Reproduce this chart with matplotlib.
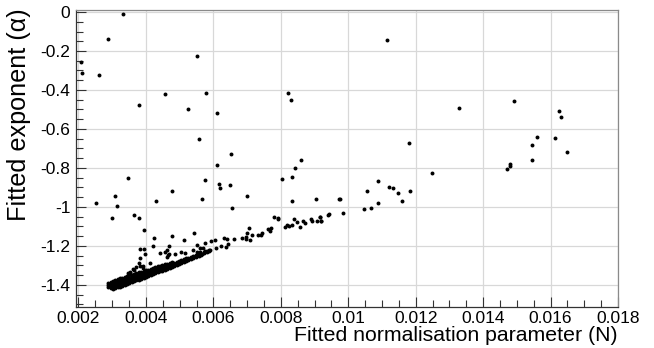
import matplotlib
matplotlib.use("Agg")
import matplotlib.pyplot as plt
import numpy as np

# scattered fits (N, alpha)
scatter_x = [0.00207, 0.00210, 0.00261, 0.00287, 0.00332, 0.00379, 0.00456, 0.00524,
             0.00550, 0.00578, 0.00610, 0.00557, 0.00651, 0.00610, 0.00820, 0.00829,
             0.00859, 0.00841, 0.00832, 0.00805, 0.00348, 0.00575,
             0.01116, 0.01327, 0.01491, 0.01624, 0.01630, 0.01181, 0.01560, 0.01614,
             0.01545, 0.01649, 0.01545, 0.01480, 0.01480, 0.01471, 0.01249,
             0.01088, 0.01122, 0.01132, 0.01055, 0.01149, 0.01184, 0.00977, 0.01160,
             0.01089, 0.01048, 0.01066, 0.00983, 0.00941, 0.00918, 0.00915,
             0.00252, 0.00308, 0.00314, 0.00430, 0.00299, 0.00365, 0.00380, 0.00394,
             0.00425, 0.00476, 0.00542, 0.00513, 0.00421, 0.00394, 0.00383, 0.00396,
             0.00469, 0.00551, 0.00461, 0.00441, 0.00468, 0.00463, 0.00378, 0.00390,
             0.00353, 0.00365, 0.00301, 0.00477, 0.00566,
             0.00616, 0.00619, 0.00649, 0.00699, 0.00655, 0.00833, 0.00904, 0.00972]
scatter_y = [-0.256, -0.313, -0.323, -0.138, -0.010, -0.477, -0.420, -0.500,
             -0.226, -0.417, -0.518, -0.650, -0.730, -0.785, -0.415, -0.451,
             -0.760, -0.800, -0.845, -0.855, -0.851, -0.862,
             -0.144, -0.492, -0.456, -0.510, -0.540, -0.670, -0.640, -0.645,
             -0.680, -0.720, -0.760, -0.780, -0.790, -0.805, -0.826,
             -0.867, -0.897, -0.903, -0.918, -0.928, -0.918, -0.959, -0.970,
             -0.979, -1.010, -1.005, -1.030, -1.040, -1.070, -1.050,
             -0.979, -0.945, -0.995, -0.969, -1.058, -1.041, -1.058, -1.116,
             -1.159, -1.149, -1.133, -1.171, -1.198, -1.214, -1.217, -1.241,
             -1.200, -1.195, -1.221, -1.237, -1.241, -1.258, -1.289, -1.301,
             -1.337, -1.323, -1.422, -0.918, -0.959,
             -0.884, -0.903, -0.886, -0.944, -1.004, -0.968, -0.959, -0.959]

# upper chain beyond the dense band
chain_x = [0.00779, 0.00791, 0.00791, 0.00839, 0.00847, 0.00865, 0.00871, 0.00889,
           0.00892, 0.00907, 0.00916, 0.00919, 0.00942, 0.00812, 0.00818, 0.00824,
           0.00833, 0.00856, 0.00705, 0.00699, 0.00696, 0.00714, 0.00684, 0.00696,
           0.00708, 0.00732, 0.00741, 0.00744, 0.00761, 0.00767, 0.00770, 0.00661,
           0.00640, 0.00631, 0.00643, 0.00637, 0.00622, 0.00607, 0.00593, 0.00604,
           0.00575, 0.00590, 0.00575, 0.00560, 0.00566,
           0.00353, 0.00361, 0.00382, 0.00391, 0.00466, 0.00486, 0.00503, 0.00560,
           0.00382, 0.00348, 0.00370, 0.00412, 0.00456, 0.00516, 0.00540, 0.00550,
           0.00570, 0.00308]
chain_y = [-1.053, -1.058, -1.063, -1.062, -1.077, -1.070, -1.080, -1.063,
           -1.073, -1.070, -1.053, -1.070, -1.037, -1.104, -1.092, -1.097,
           -1.094, -1.101, -1.109, -1.135, -1.152, -1.144, -1.157, -1.164,
           -1.171, -1.145, -1.142, -1.132, -1.114, -1.125, -1.108, -1.163,
           -1.166, -1.159, -1.191, -1.204, -1.202, -1.212, -1.173, -1.169,
           -1.186, -1.222, -1.227, -1.232, -1.241,
           -1.332, -1.318, -1.301, -1.313, -1.246, -1.241, -1.232, -1.212,
           -1.263, -1.340, -1.306, -1.289, -1.229, -1.237, -1.221, -1.229,
           -1.212, -1.412]

# dense band: column positions and alpha values in each column
band_x = [0.00288, 0.00295, 0.00302, 0.00309, 0.00316, 0.00323, 0.00330, 0.00337,
          0.00344, 0.00351, 0.00358, 0.00365, 0.00372, 0.00379, 0.00386, 0.00393,
          0.00400, 0.00407, 0.00414, 0.00421, 0.00428, 0.00435, 0.00442, 0.00449,
          0.00456, 0.00463, 0.00470, 0.00477, 0.00484, 0.00491, 0.00498, 0.00505,
          0.00512, 0.00519, 0.00526, 0.00533, 0.00540, 0.00548, 0.00556, 0.00564,
          0.00572, 0.00580, 0.00588]
band_y = [
    [-1.408, -1.398, -1.390],
    [-1.414, -1.404, -1.394, -1.385],
    [-1.418, -1.408, -1.398, -1.388, -1.378],
    [-1.416, -1.405, -1.395, -1.385, -1.374],
    [-1.412, -1.401, -1.391, -1.381, -1.370],
    [-1.408, -1.398, -1.388, -1.378, -1.366],
    [-1.404, -1.394, -1.384, -1.374, -1.362],
    [-1.400, -1.390, -1.380, -1.370, -1.358],
    [-1.396, -1.386, -1.376, -1.366, -1.355],
    [-1.392, -1.382, -1.372, -1.362, -1.350],
    [-1.386, -1.377, -1.368, -1.358, -1.347],
    [-1.382, -1.373, -1.364, -1.354, -1.343],
    [-1.377, -1.368, -1.359, -1.350, -1.340],
    [-1.372, -1.364, -1.355, -1.346, -1.336],
    [-1.368, -1.360, -1.351, -1.342, -1.332],
    [-1.363, -1.355, -1.347, -1.338, -1.328],
    [-1.358, -1.350, -1.342, -1.334, -1.324],
    [-1.354, -1.346, -1.338, -1.330, -1.321],
    [-1.349, -1.341, -1.334, -1.326, -1.317],
    [-1.344, -1.337, -1.330, -1.322, -1.313],
    [-1.340, -1.333, -1.326, -1.318, -1.309],
    [-1.335, -1.328, -1.321, -1.314, -1.305],
    [-1.330, -1.324, -1.317, -1.310, -1.301],
    [-1.326, -1.320, -1.313, -1.306, -1.298],
    [-1.321, -1.315, -1.309, -1.302, -1.294],
    [-1.316, -1.311, -1.305, -1.298, -1.290],
    [-1.312, -1.306, -1.300, -1.294, -1.286],
    [-1.307, -1.301, -1.295, -1.289, -1.282],
    [-1.302, -1.297, -1.291, -1.285],
    [-1.297, -1.292, -1.286, -1.280],
    [-1.292, -1.287, -1.282, -1.276],
    [-1.287, -1.282, -1.277, -1.272],
    [-1.282, -1.277, -1.272, -1.267],
    [-1.277, -1.272, -1.267, -1.262],
    [-1.272, -1.267, -1.262],
    [-1.267, -1.262, -1.257],
    [-1.262, -1.257, -1.252],
    [-1.256, -1.251, -1.246],
    [-1.250, -1.245, -1.240],
    [-1.244, -1.239],
    [-1.238, -1.233],
    [-1.232, -1.227],
    [-1.226, -1.221],
]

xticks = [0.002, 0.004, 0.006, 0.008, 0.010, 0.012, 0.014, 0.016, 0.018]
xticklabels = ["0.002", "0.004", "0.006", "0.008", "0.01", "0.012", "0.014", "0.016", "0.018"]
yticks = [0, -0.2, -0.4, -0.6, -0.8, -1.0, -1.2, -1.4]
yticklabels = ["0", "-0.2", "-0.4", "-0.6", "-0.8", "-1", "-1.2", "-1.4"]

plt.rcParams['font.family'] = ['Liberation Sans', 'DejaVu Sans']

fig = plt.figure(figsize=(6.54, 3.48), dpi=100)
ax = fig.add_axes([76/654, 41/348, 542/654, 297/348])

bx, by = [], []
for x, col in zip(band_x, band_y):
    for y in col:
        bx.append(x)
        by.append(y)

allx = scatter_x + chain_x + bx
ally = scatter_y + chain_y + by
ax.scatter(allx, ally, s=8, c="black", marker="o", linewidths=0, zorder=3)

ax.set_xlim(0.001926, 0.018)
ax.set_ylim(-1.513, 0.0103)
ax.set_xticks(xticks)
ax.set_xticklabels(xticklabels)
ax.set_yticks(yticks)
ax.set_yticklabels(yticklabels)
ax.set_xticks(np.arange(0.0020, 0.01801, 0.0005), minor=True)
ax.set_yticks(np.arange(-1.5, 0.001, 0.05), minor=True)
ax.grid(True, which="major", color="#d8d8d8", linewidth=0.9, zorder=0)
ax.set_axisbelow(True)

ax.tick_params(which="both", direction="in", top=False, right=False,
               labelsize=12.5, color="#333333")
ax.tick_params(which="major", length=7, width=0.8)
ax.tick_params(which="minor", length=5, width=0.8)
ax.tick_params(axis="y", pad=4)
ax.tick_params(axis="x", pad=3)

for s in ["left", "bottom"]:
    ax.spines[s].set_color("#333333")
    ax.spines[s].set_linewidth(0.9)
for s in ["top", "right"]:
    ax.spines[s].set_color("#8a8a8a")
    ax.spines[s].set_linewidth(0.9)

fig.text(618/654, 1 - 341/348, "Fitted normalisation parameter (N)",
         ha="right", va="baseline", fontsize=15.3)
fig.text(19/654, 1 - 8/348, "Fitted exponent (\u03b1)", rotation=90,
         ha="center", va="top", fontsize=18.2)

fig.savefig("out.png", dpi=100)
